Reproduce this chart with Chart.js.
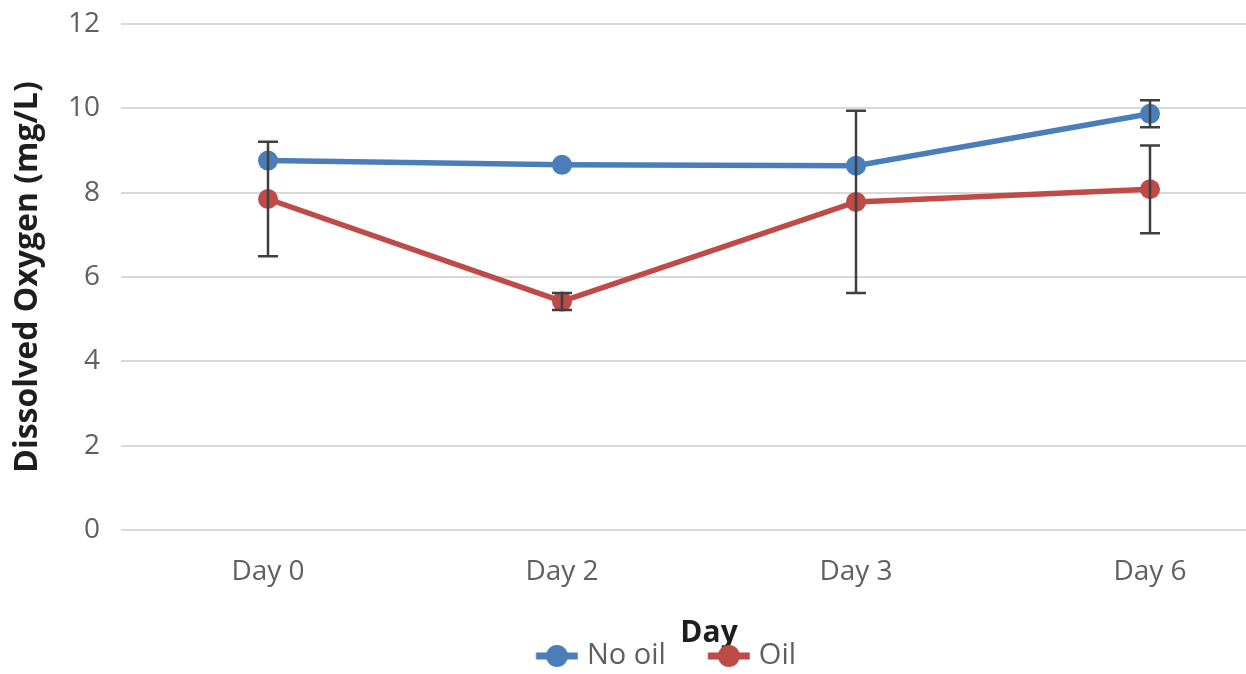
<!DOCTYPE html>
<html>
<head>
<meta charset="utf-8">
<title>Dissolved Oxygen by Day</title>
<script src="https://cdn.jsdelivr.net/npm/chart.js@4.4.1/dist/chart.umd.min.js"></script>
<style>
  html, body { margin: 0; padding: 0; background: #ffffff; overflow: hidden; }
  #wrap { position: absolute; left: 0; top: 0; width: 1317px; height: 674px; }
</style>
</head>
<body>
<div id="wrap"><canvas id="chart" width="1317" height="674"></canvas></div>
<script>
// Sampling days
const days = ['Day 0', 'Day 2', 'Day 3', 'Day 6'];

// Mean dissolved oxygen (mg/L)
const noOil = [8.76, 8.66, 8.64, 9.87];
const oil = [7.85, 5.42, 7.78, 8.08];

// Error bar half-lengths (mg/L)
const noOilErr = [0, 0, 0, 0.32];
const oilErr = [1.36, 0.2, 2.16, 1.04];

// Y axis ticks
const yTicks = [0, 2, 4, 6, 8, 10, 12];

const BLUE = '#4a7ebb';
const RED = '#be4b48';
const TEXT = '#606060';
const FONT = "'Open Sans', 'Liberation Sans', sans-serif";

// Line-with-marker swatch for the legend; the blank strip on the left
// spaces the legend entries apart.
function swatch(color) {
  const c = document.createElement('canvas');
  c.width = 70; c.height = 26;
  const g = c.getContext('2d');
  const x0 = 27.75, x1 = 69.75, cy = 13;
  g.strokeStyle = color;
  g.lineWidth = 7;
  g.beginPath(); g.moveTo(x0, cy); g.lineTo(x1, cy); g.stroke();
  g.fillStyle = color;
  g.beginPath(); g.arc((x0 + x1) / 2, cy, 11, 0, Math.PI * 2); g.fill();
  return c;
}

// Vertical error bars with caps
const errorBars = {
  id: 'errorBars',
  afterDatasetsDraw(chart) {
    const ctx = chart.ctx;
    const y = chart.scales.y;
    ctx.save();
    ctx.strokeStyle = '#3f3f3f';
    ctx.lineWidth = 2.5;
    chart.data.datasets.forEach((ds, i) => {
      const meta = chart.getDatasetMeta(i);
      ds.errors.forEach((e, j) => {
        if (!e) return;
        const px = meta.data[j].x;
        const top = y.getPixelForValue(ds.data[j] + e);
        const bot = y.getPixelForValue(ds.data[j] - e);
        ctx.beginPath();
        ctx.moveTo(px, top); ctx.lineTo(px, bot);
        ctx.moveTo(px - 10, top); ctx.lineTo(px + 10, top);
        ctx.moveTo(px - 10, bot); ctx.lineTo(px + 10, bot);
        ctx.stroke();
      });
    });
    ctx.restore();
  }
};

new Chart(document.getElementById('chart'), {
  type: 'line',
  data: {
    labels: days,
    datasets: [
      {
        label: 'No oil', data: noOil, errors: noOilErr,
        borderColor: BLUE, backgroundColor: BLUE,
        borderWidth: 5.5, pointRadius: 10, pointHoverRadius: 10,
        pointBorderWidth: 0, tension: 0, pointStyle: 'circle'
      },
      {
        label: 'Oil', data: oil, errors: oilErr,
        borderColor: RED, backgroundColor: RED,
        borderWidth: 5.5, pointRadius: 10, pointHoverRadius: 10,
        pointBorderWidth: 0, tension: 0, pointStyle: 'circle'
      }
    ]
  },
  options: {
    responsive: false,
    animation: false,
    devicePixelRatio: 1,
    layout: { padding: { left: 13, right: 20, top: 24, bottom: -6.5 } },
    plugins: {
      tooltip: { enabled: false },
      legend: {
        position: 'bottom',
        labels: {
          usePointStyle: true,
          pointStyleWidth: 58.5,
          padding: 20,
          color: TEXT,
          font: { family: FONT, size: 29 },
          generateLabels(chart) {
            return chart.data.datasets.map((ds, i) => ({
              text: ds.label,
              pointStyle: swatch(ds.borderColor),
              fontColor: TEXT,
              datasetIndex: i,
              hidden: false,
              lineWidth: 0
            }));
          }
        }
      }
    },
    scales: {
      x: {
        offset: true,
        grid: { display: false, drawTicks: false },
        border: { display: false },
        ticks: { color: TEXT, font: { family: FONT, size: 28 }, padding: 25 },
        title: {
          display: true, text: 'Day', color: '#1e1e1e',
          font: { family: FONT, size: 30, weight: 'bold' },
          padding: { top: 0, bottom: -29.5 }
        },
        afterFit(s) { s.height = 91.5; }
      },
      y: {
        min: 0, max: 12,
        afterBuildTicks(s) { s.ticks = yTicks.map(v => ({ value: v })); },
        grid: { color: '#d9d9d9', lineWidth: 2, drawTicks: false },
        border: { display: false },
        ticks: { color: TEXT, font: { family: FONT, size: 28 }, padding: 21 },
        title: {
          display: true, text: 'Dissolved Oxygen (mg/L)', color: '#1e1e1e',
          font: { family: FONT, size: 32, weight: 'bold' },
          padding: { top: -4, bottom: 0 }
        },
        afterFit(s) {
          s.width = 108;
          s.paddingTop = 0;
          s.paddingBottom = 0;
        }
      }
    }
  },
  plugins: [errorBars]
});
</script>
</body>
</html>
